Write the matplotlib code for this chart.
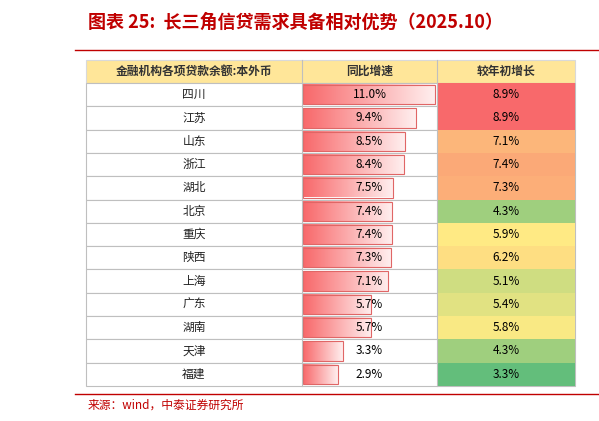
import matplotlib
matplotlib.use("Agg")
import matplotlib.pyplot as plt
import numpy as np
from matplotlib.colors import LinearSegmentedColormap, to_rgb
from matplotlib.patches import Rectangle

plt.rcParams["font.family"] = ["Noto Sans CJK SC", "DejaVu Sans"]

provinces = ["四川", "江苏", "山东", "浙江", "湖北", "北京", "重庆", "陕西", "上海", "广东", "湖南", "天津", "福建"]
yoy = [11.0, 9.4, 8.5, 8.4, 7.5, 7.4, 7.4, 7.3, 7.1, 5.7, 5.7, 3.3, 2.9]
ytd = [8.9, 8.9, 7.1, 7.4, 7.3, 4.3, 5.9, 6.2, 5.1, 5.4, 5.8, 4.3, 3.3]
headers = ["金融机构各项贷款余额:本外币", "同比增速", "较年初增长"]

C_RED = "#C00000"
fig = plt.figure(figsize=(5.99, 4.21), dpi=100)
ax = fig.add_axes([0, 0, 1, 1])
ax.set_xlim(0, 599)
ax.set_ylim(421, 0)
ax.axis("off")

ax.text(88, 22, "图表 25:  长三角信贷需求具备相对优势（2025.10）", fontsize=13, fontweight="bold",
        fontstyle="italic", color=C_RED, va="center")
ax.plot([75, 599], [50, 50], color=C_RED, lw=1)

x0, x1, x2, x3 = 86, 302, 437, 575
top, hh, rh = 60, 23, 23.3
ax.add_patch(Rectangle((x0, top), x3 - x0, hh, fc="#FFE699", ec="#D9D9D9", lw=0.8))
for cx, h in zip([(x0 + x1) / 2, (x1 + x2) / 2, (x2 + x3) / 2], headers):
    ax.text(cx, top + hh / 2, h, ha="center", va="center", fontsize=8.5, fontweight="bold", color="#333333")

cmap = LinearSegmentedColormap.from_list("cs", ["#63BE7B", "#FFEB84", "#F8696B"])
lo, mid, hi = min(ytd), float(np.median(ytd)), max(ytd)
grad = np.linspace(0, 1, 64)[None, :]
gcmap = LinearSegmentedColormap.from_list("g", ["#F8696B", "#FFEEEE"])
scale = (x2 - x1 - 3) / max(yoy)

for i, (p, a, b) in enumerate(zip(provinces, yoy, ytd)):
    y = top + hh + i * rh
    ax.add_patch(Rectangle((x0, y), x3 - x0, rh, fc="white", ec="#BFBFBF", lw=0.8))
    ax.text((x0 + x1) / 2, y + rh / 2, p, ha="center", va="center", fontsize=8.5, color="#222222")
    # gradient data bar
    w = a * scale
    ax.imshow(grad, extent=(x1 + 1, x1 + 1 + w, y + rh - 2, y + 2), cmap=gcmap, aspect="auto", zorder=2)
    ax.add_patch(Rectangle((x1 + 1, y + 2), w, rh - 4, fc="none", ec="#E06666", lw=0.8, zorder=3))
    ax.text((x1 + x2) / 2, y + rh / 2, f"{a:.1f}%", ha="center", va="center", fontsize=8.5, zorder=4)
    t = (b - lo) / (mid - lo) * 0.5 if b <= mid else 0.5 + (b - mid) / (hi - mid) * 0.5
    ax.add_patch(Rectangle((x2, y), x3 - x2, rh, fc=cmap(t), ec="none", zorder=2))
    ax.text((x2 + x3) / 2, y + rh / 2, f"{b:.1f}%", ha="center", va="center", fontsize=8.5, zorder=4)

bot = top + hh + len(provinces) * rh
ax.plot([x2, x2], [top, bot], color="#BFBFBF", lw=0.8, zorder=3)
ax.plot([x1, x1], [top, bot], color="#BFBFBF", lw=0.8, zorder=3)
ax.plot([75, 599], [bot + 8, bot + 8], color=C_RED, lw=1)
ax.text(88, bot + 19, "来源：wind，中泰证券研究所", fontsize=8.5, color=C_RED, va="center")

fig.savefig("out.png", dpi=100)
